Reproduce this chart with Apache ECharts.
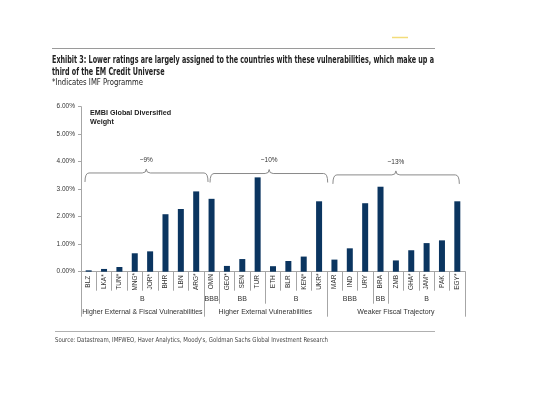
<!DOCTYPE html>
<html><head><meta charset="utf-8">
<script src="https://cdn.jsdelivr.net/npm/echarts@6/dist/echarts.min.js"></script>
<style>html,body{margin:0;padding:0;background:#fff}#c{width:560px;height:418px}</style>
</head><body><div id="c"></div>
<script>
const countries = ['BLZ','LKA*','TUN*','MNG*','JOR*','BHR','LBN','ARG*','OMN','GEO*','SEN','TUR','ETH','BLR','KEN*','UKR*','MAR','IND','URY','BRA','ZMB','GHA*','JAM*','PAK','EGY*'];
const weights = [0.05,0.10,0.17,0.67,0.74,2.09,2.28,2.92,2.65,0.21,0.46,3.43,0.20,0.39,0.55,2.56,0.44,0.85,2.49,3.09,0.41,0.78,1.04,1.14,2.56];
const ratingGroups = [[0,7,'B'],[8,8,'BBB'],[9,11,'BB'],[12,15,'B'],[16,18,'BBB'],[19,19,'BB'],[20,24,'B']];
const segmentGroups = [[0,7,'Higher External & Fiscal Vulnerabilities'],[8,15,'Higher External Vulnerabilities'],[16,24,'Weaker Fiscal Trajectory']];
const braceSpans = [[-0.24,7.77],[7.9,15.56],[15.9,24.13]];
const bracePeaks = [3.75,11.75,20.0];
const braceLevels = [3.59,3.57,3.52];
const braceLabels = ['~9%','~10%','~13%'];
const yTicks = [0,1,2,3,4,5,6];
const titleLines = 'Exhibit 3: Lower ratings are largely assigned to the countries with these vulnerabilities, which make up a\nthird of the EM Credit Universe';
const subtitleText = '*Indicates IMF Programme';
const sourceText = "Source: Datastream, IMFWEO, Haver Analytics, Moody's, Goldman Sachs Global Investment Research";

const ratingStarts = ratingGroups.map(g=>g[0]);
const segmentStarts = segmentGroups.map(g=>g[0]);
const AX = '#a6a6a6';
const FONT = 'Liberation Sans, Arial, sans-serif';
const NARROW = '"Liberation Sans Narrow", "DejaVu Sans Condensed", sans-serif';

const mctx = document.createElement('canvas').getContext('2d');
function fitScale(text, font, target){ mctx.font = font; return target / mctx.measureText(text).width; }
const titleFont = 'bold 10px '+NARROW;
const subFont = '8.5px '+NARROW;
const srcFont = '6.8px '+NARROW;
const titleScale = fitScale(titleLines.split('\n')[0], titleFont, 382);
const subScale = fitScale(subtitleText, subFont, 91);
const srcScale = fitScale(sourceText, srcFont, 273);

function bandX(api, frac){
  const p0 = api.coord([0,0]); const p1 = api.coord([1,0]);
  return p0[0] + (p1[0]-p0[0])*frac;
}

const chart = echarts.init(document.getElementById('c'), null, {renderer:'canvas'});
const baseX = {type:'category', data:countries, gridIndex:0, position:'bottom'};
chart.setOption({
  animation:false,
  title:[{text:'EMBI Global Diversified\nWeight', left:85, top:103,
    textStyle:{fontFamily:FONT, fontSize:7.2, fontWeight:'bold', color:'#222', lineHeight:9.5}}],
  graphic:[
    {type:'line', shape:{x1:52,y1:48.5,x2:435,y2:48.5}, style:{stroke:'#9a9a9a', lineWidth:1}},
    {type:'line', shape:{x1:392,y1:37.5,x2:408,y2:37.5}, style:{stroke:'#f3dc7a', lineWidth:1.5}},
    {type:'text', x:52, y:54, scaleX:titleScale, style:{text:titleLines, x:0, y:0, font:titleFont, fill:'#222', lineHeight:12}},
    {type:'text', x:52, y:78, scaleX:subScale, style:{text:subtitleText, x:0, y:0, font:subFont, fill:'#222'}},
    {type:'line', shape:{x1:55,y1:331.5,x2:435,y2:331.5}, style:{stroke:'#b0b0b0', lineWidth:1}},
    {type:'text', x:55, y:337, scaleX:srcScale, style:{text:sourceText, x:0, y:0, font:srcFont, fill:'#444'}}
  ],
  grid:{left:81, right:95, top:106.7, bottom:146.3, containLabel:false},
  xAxis:[
    Object.assign({}, baseX, {
      axisLine:{show:true, lineStyle:{color:AX}},
      axisTick:{show:true, interval:0, length:19, lineStyle:{color:AX}},
      axisLabel:{interval:0, rotate:90, align:'center', verticalAlign:'middle', margin:10, fontFamily:FONT, fontSize:6.5, color:'#333'}
    }),
    Object.assign({}, baseX, {
      axisLine:{show:false},
      axisTick:{show:true, interval:(i)=>ratingStarts.indexOf(i)>=0, length:32, lineStyle:{color:AX}},
      axisLabel:{show:false}
    }),
    Object.assign({}, baseX, {
      axisLine:{show:false},
      axisTick:{show:true, interval:(i)=>segmentStarts.indexOf(i)>=0, length:45, lineStyle:{color:AX}},
      axisLabel:{show:false}
    })
  ],
  yAxis:{type:'value', min:yTicks[0], max:yTicks[yTicks.length-1], interval:1,
    splitLine:{show:false},
    axisLine:{show:true, lineStyle:{color:AX}},
    axisTick:{show:true, length:3, lineStyle:{color:AX}},
    axisLabel:{formatter:v=>v.toFixed(2)+'%', fontFamily:FONT, fontSize:6.5, color:'#333', margin:6}},
  series:[
    {type:'bar', data:weights, barWidth:6, itemStyle:{color:'#0b3560'}},
    {type:'custom', clip:false, silent:true,
      data:ratingGroups.map(g=>[g[0],g[1],0]), encode:{x:[0,1], y:2},
      renderItem:(params, api)=>{
        const a = api.coord([api.value(0),0]); const b = api.coord([api.value(1),0]);
        return {type:'text', style:{text:ratingGroups[params.dataIndex][2], x:(a[0]+b[0])/2, y:a[1]+27.5, align:'center', verticalAlign:'middle', font:'7px '+FONT, fill:'#333'}};
      }},
    {type:'custom', clip:false, silent:true,
      data:segmentGroups.map(g=>[g[0],g[1],0]), encode:{x:[0,1], y:2},
      renderItem:(params, api)=>{
        const a = api.coord([api.value(0),0]); const b = api.coord([api.value(1),0]);
        return {type:'text', style:{text:segmentGroups[params.dataIndex][2], x:(a[0]+b[0])/2, y:a[1]+40.5, align:'center', verticalAlign:'middle', font:'7px '+FONT, fill:'#333'}};
      }},
    {type:'custom', clip:false, silent:true,
      data:braceSpans.map((s,i)=>[s[0],s[1],braceLevels[i]]), encode:{x:[0,1], y:2},
      renderItem:(params, api)=>{
        const i = params.dataIndex;
        const x1 = bandX(api, braceSpans[i][0]), x2 = bandX(api, braceSpans[i][1]), xc = bandX(api, bracePeaks[i]);
        const y = api.coord([0, braceLevels[i]])[1];
        const d = 9, u = 4, r = 4;
        const path = 'M'+x1+' '+(y+d)+' Q'+x1+' '+y+' '+(x1+r)+' '+y+' L'+(xc-r)+' '+y+' Q'+xc+' '+y+' '+xc+' '+(y-u)+' Q'+xc+' '+y+' '+(xc+r)+' '+y+' L'+(x2-r)+' '+y+' Q'+x2+' '+y+' '+x2+' '+(y+d);
        return {type:'group', children:[
          {type:'path', shape:{pathData:path}, style:{fill:null, stroke:'#8a8a8a', lineWidth:1}},
          {type:'text', style:{text:braceLabels[i], x:xc, y:y-13, align:'center', verticalAlign:'middle', font:'6.5px '+FONT, fill:'#333'}}
        ]};
      }}
  ]
});
</script></body></html>
